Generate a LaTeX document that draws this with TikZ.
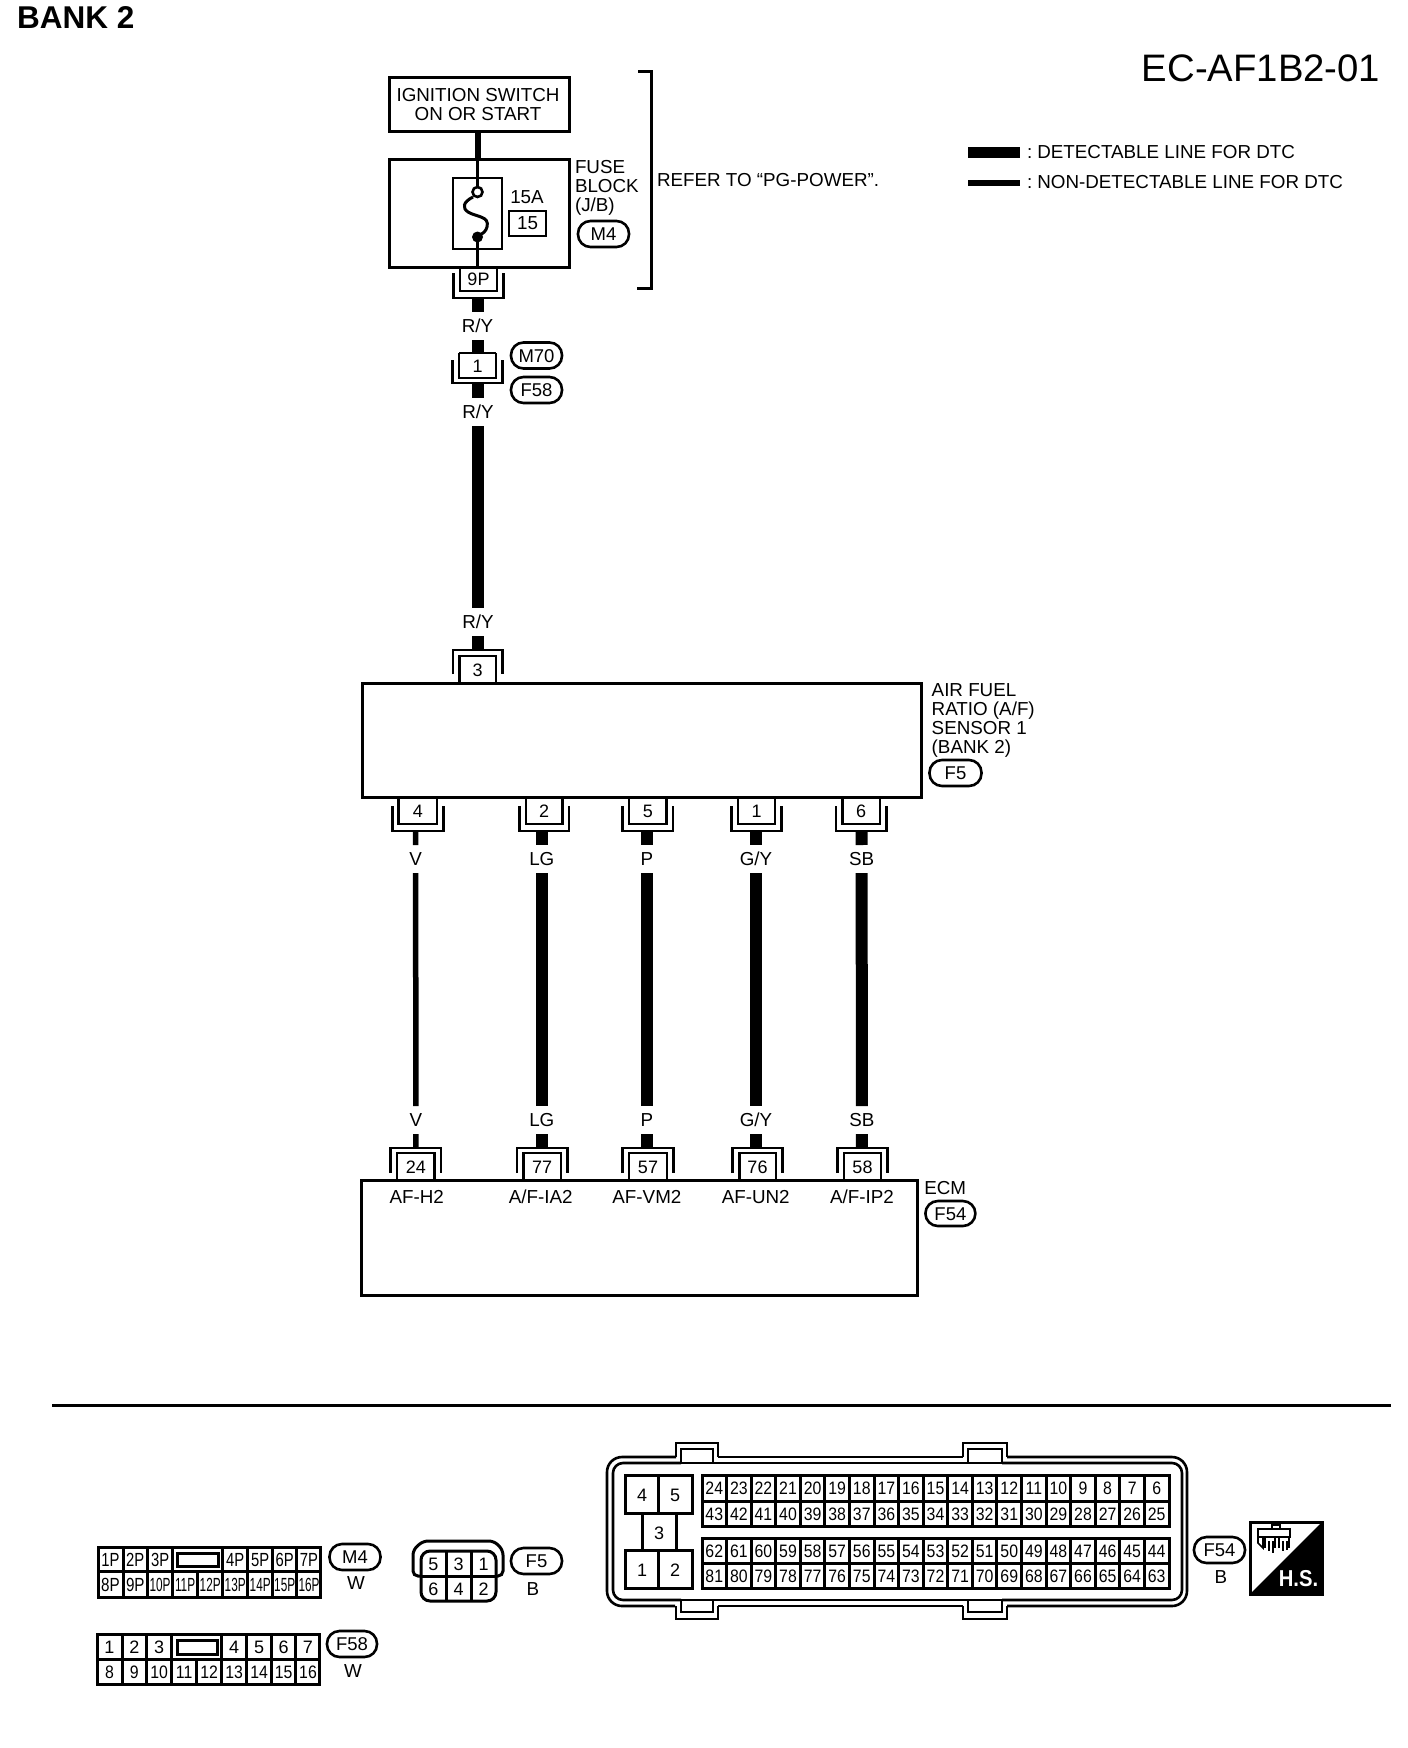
\documentclass[tikz,border=0pt]{standalone}
\usepackage{fontspec}
\setmainfont{Liberation Sans}
\newcommand\fsz[1]{\fontsize{#1}{#1}\selectfont}
\newcommand\nar[1]{\scalebox{0.88}[1]{#1}}
\tikzset{
 ln/.style={line width=2.6pt,line cap=square,line join=miter},
 hvy/.style={line width=3pt},
 wth/.style={line width=12pt,line cap=butt},
 wtn/.style={line width=5.5pt,line cap=butt},
 wfn/.style={line width=3pt,line cap=butt},
 tx/.style={inner sep=0pt,outer sep=0pt,font=\fsz{18.8},text height=13.5pt,text depth=0pt},
 wl/.style={tx,minimum height=28pt,minimum width=10pt},
 pill/.style={draw,line width=2.6pt,rounded corners=12.5pt,inner sep=0pt,outer sep=0pt,minimum width=51pt,minimum height=26pt,font=\fsz{18.5},text height=13pt,text depth=0pt},
 pn/.style={inner sep=0pt,outer sep=0pt,font=\fsz{18},text height=13pt,text depth=0pt},
}
% name,label,ix0,ix1,iopen,iclosed,oopen,oclosed,wirex
\newcommand\pinc[9]{%
 \draw[ln] (#3,#5) -- (#3,#6) -- (#4,#6) -- (#4,#5);
 \draw[ln] ({#3-6.5},#7) -- ({#3-6.5},#8) -- ({#4+6.5},#8) -- ({#4+6.5},#7);
 \node[pn,minimum width={(#4-(#3))*1pt},minimum height={abs(#6-(#5))*1pt}] (#1) at ({(#3+#4)/2},{(#5+#6)/2}) {#2};
 \coordinate (#1-w) at (#9,#8);
}
\begin{document}
\begin{tikzpicture}[x=1pt,y=-1pt]
\useasboundingbox (0,0) rectangle (1408,1748);
\node[inner sep=0pt,font=\bfseries\fsz{31.5},text height=22pt,text depth=0pt,anchor=west] (title) at (17,17.5) {BANK 2};
\node[inner sep=0pt,font=\fsz{38.3},text height=27.5pt,text depth=0pt,anchor=east] (code) at (1380.5,67.5) {EC-AF1B2-01};
% legend
\coordinate (lg1a) at (968,152.5); \coordinate (lg1b) at (1020,152.5);
\coordinate (lg2a) at (968,183); \coordinate (lg2b) at (1020,183);
\draw[line width=11pt] (lg1a) -- (lg1b);
\draw[line width=5.5pt] (lg2a) -- (lg2b);
\node[tx,anchor=west] (lgt1) at (1027,152) {:\hspace{.27em}DETECTABLE LINE FOR DTC};
\node[tx,anchor=west] (lgt2) at (1027,182) {:\hspace{.27em}NON-DETECTABLE LINE FOR DTC};
% ignition
\node[draw,hvy,inner sep=0pt,outer sep=0pt,minimum width=180pt,minimum height=54pt] (ign) at (479,104) {};
\node[tx] (ig1) at (478,95) {IGNITION SWITCH};
\node[tx] (ig2) at (478,114) {ON OR START};
\node[draw,hvy,inner sep=0pt,outer sep=0pt,minimum width=180pt,minimum height=108pt] (fb) at (479,213) {};
\coordinate (ignw) at (477.5,131); \coordinate (fbw) at (477.5,159); \coordinate (fbb) at (477.5,267);
\draw[line width=6pt] (ignw) -- (fbw);
\draw[ln] (453,178) rectangle (502,249);
\coordinate (fc1) at (477.5,192); \coordinate (fc2) at (477.5,237);
\draw[wfn] (fbw) -- (fc1);
\draw[wfn] (fc2) -- (fbb);
\draw[line width=3pt] (473,197) .. controls (463,202) and (462,208) .. (468,212) .. controls (476,217) and (490,216) .. (487,227) .. controls (486,231) and (483,234) .. (479,235);
\fill[white] (fc1) circle (5); \draw[line width=2.6pt] (fc1) circle (5);
\fill (fc2) circle (5.5);
\node[tx] (a15) at (527,197) {15A};
\node[draw,ln,inner sep=0pt,outer sep=0pt,minimum width=37pt,minimum height=25pt,font=\fsz{18.8}] (b15) at (527.5,223.5) {15};
\node[tx,anchor=west] (fbl1) at (575,167) {FUSE};
\node[tx,anchor=west] (fbl2) at (575,186) {BLOCK};
\node[tx,anchor=west] (fbl3) at (575,205) {(J/B)};
\node[pill] (pm4) at (603.5,234) {M4};
\draw[hvy] (638,71) -- (651,71) -- (651,288) -- (637,288);
\node[tx,anchor=west] (refer) at (657,180) {REFER TO “PG-POWER”.};
% top connectors and wire
\pinc{c9p}{9P}{460}{497}{267}{291}{273}{298}{477.5}
\node[wl] (ry1) at (477.5,326) {R/Y};
\draw[wth] (c9p-w) -- (ry1.north);
\draw[wth] (ry1.south) -- (477.5,353) coordinate (c1t);
\pinc{c1}{1}{459}{496}{353}{378}{360}{383}{478}
\draw[ln] (459,353) -- (496,353);
\node[pill] (pm70) at (536.5,355.5) {M70};
\node[pill] (pf58) at (536.5,390) {F58};
\node[wl] (ry2) at (478,412) {R/Y};
\draw[wth] (c1-w) -- (ry2.north);
\node[wl] (ry3) at (478,622) {R/Y};
\draw[wth] (ry2.south) -- (ry3.north);
\pinc{c3}{3}{459.3}{496}{683}{656}{674}{650}{478}
\draw[wth] (ry3.south) -- (c3-w);
% sensor
\node[draw,hvy,inner sep=0pt,outer sep=0pt,minimum width=559.7pt,minimum height=114pt] (sensor) at (641.85,740) {};
\node[tx,anchor=west] (sl1) at (931.7,690) {AIR FUEL};
\node[tx,anchor=west] (sl2) at (931.7,708.5) {RATIO (A/F)};
\node[tx,anchor=west] (sl3) at (931.7,727.5) {SENSOR 1};
\node[tx,anchor=west] (sl4) at (931.7,746.5) {(BANK 2)};
\node[pill,minimum width=52pt] (pf5) at (955.5,773) {F5};
\pinc{s4}{4}{398.7}{437}{797}{824}{806}{831}{415.7}
\pinc{s2}{2}{525.8}{562.5}{797}{824}{806}{831}{541.8}
\pinc{s5}{5}{629}{666.6}{797}{824}{806}{831}{647}
\pinc{s1}{1}{738}{775}{797}{824}{806}{831}{756}
\pinc{s6}{6}{842.3}{880}{797}{824}{806}{831}{861.6}
% ECM
\node[draw,hvy,inner sep=0pt,outer sep=0pt,minimum width=556.2pt,minimum height=115pt] (ecm) at (639.5,1237.5) {};
\node[tx,anchor=west] (ecml) at (924.3,1188) {ECM};
\node[pill,minimum width=50pt,minimum height=25pt] (pf54) at (950.4,1213.5) {F54};
\pinc{e24}{24}{397}{434.6}{1180}{1153}{1173}{1148}{415.8}
\pinc{e77}{77}{523.3}{560.8}{1180}{1153}{1173}{1148}{541.8}
\pinc{e57}{57}{629}{667}{1180}{1153}{1173}{1148}{647}
\pinc{e76}{76}{739.2}{775.8}{1180}{1153}{1173}{1148}{756}
\pinc{e58}{58}{844}{881}{1180}{1153}{1173}{1148}{861.8}
\node[tx] (pa) at (416.7,1197) {AF-H2};
\node[tx] (pb) at (540.7,1197) {A/F-IA2};
\node[tx] (pc) at (646.9,1197) {AF-VM2};
\node[tx] (pd) at (755.7,1197) {AF-UN2};
\node[tx] (pe) at (861.9,1197) {A/F-IP2};
% wires
\node[wl] (va) at (415.7,859) {V};    \node[wl] (vb) at (415.8,1120) {V};
\node[wl] (la) at (541.8,859) {LG};   \node[wl] (lb) at (541.8,1120) {LG};
\node[wl] (ma) at (647,859) {P};      \node[wl] (mb) at (647,1120) {P};
\node[wl] (ga) at (756,859) {G/Y};    \node[wl] (gb) at (756,1120) {G/Y};
\node[wl] (sa) at (861.7,859) {SB};   \node[wl] (sb) at (861.8,1120) {SB};
\draw[wtn] (s4-w) -- (va.north) (va.south) -- (vb.north) (vb.south) -- (e24-w);
\draw[wth] (s2-w) -- (la.north) (la.south) -- (lb.north) (lb.south) -- (e77-w);
\draw[wth] (s5-w) -- (ma.north) (ma.south) -- (mb.north) (mb.south) -- (e57-w);
\draw[wth] (s1-w) -- (ga.north) (ga.south) -- (gb.north) (gb.south) -- (e76-w);
\draw[wth] (s6-w) -- (sa.north) (sa.south) -- (sb.north) (sb.south) -- (e58-w);
% rule
\coordinate (ra) at (52,1405); \coordinate (rb) at (1391,1405);
\draw[line width=3pt] (ra) -- (rb);
% M4 connector
\draw[hvy] (98,1547) rectangle (320.5,1597);
\draw[hvy] (98,1571.5) -- (320.5,1571.5);
\foreach \x in {123,147.7,172.6,222.7,247.7,272.7,296.7}{\draw[hvy] (\x,1547) -- (\x,1597);}
\draw[hvy] (197.7,1571.5) -- (197.7,1597);
\draw[hvy] (177,1553) rectangle (218,1566);
\foreach \l/\x in {1P/110.5,2P/135.3,3P/160.1,4P/235.2,5P/260.2,6P/284.7,7P/309}{
 \node[pn,font=\fsz{19},name=mt\l] at (\x,1559.5) {\scalebox{.78}[1]{\l}};}
\foreach \l/\x in {8P/110.5,9P/135.3}{
 \node[pn,font=\fsz{19},name=mb\l] at (\x,1584.5) {\scalebox{.8}[1]{\l}};}
\foreach \l/\x in {10P/160.1,11P/185.1,12P/210.2,13P/235.2,14P/260.2,15P/284.7,16P/309}{
 \node[pn,font=\fsz{19},name=mb\l] at (\x,1584.5) {\scalebox{.62}[1]{\l}};}
\node[pill] (pm4b) at (355,1557) {M4};
\node[tx] (wm4) at (356,1583) {W};
% F58 connector
\draw[hvy] (97.5,1634) rectangle (319.5,1684);
\draw[hvy] (97.5,1659) -- (319.5,1659);
\foreach \x in {122,146.7,171.6,221.7,246.7,271.7,295.7}{\draw[hvy] (\x,1634) -- (\x,1684);}
\draw[hvy] (196.7,1659) -- (196.7,1684);
\draw[hvy] (177,1640.5) rectangle (217,1654);
\foreach \l/\x in {1/109.5,2/134.3,3/159.1,4/234.2,5/259.2,6/283.7,7/308}{
 \node[pn,name=ft\l] at (\x,1646.5) {\l};}
\foreach \l/\x in {8/109.5,9/134.3,10/159.1,11/184.1,12/209.2,13/234.2,14/259.2,15/283.7,16/308}{
 \node[pn,name=fb\l] at (\x,1671.5) {\nar{\l}};}
\node[pill,minimum width=50pt] (pf58b) at (352,1644) {F58};
\node[tx] (wf58) at (353,1671) {W};
% F5 connector
\draw[hvy,rounded corners=5pt,line cap=butt] (421,1576) -- (413,1576) -- (413,1550) -- (423,1541) -- (494,1541) -- (503,1550) -- (503,1576) -- (496,1576);
\draw[hvy,rounded corners=9pt] (421,1551) rectangle (496,1601);
\draw[hvy] (421,1576) -- (496,1576) (446,1551) -- (446,1601) (471,1551) -- (471,1601);
\foreach \l/\x/\y in {5/433.5/1563.5,3/458.5/1563.5,1/483.5/1563.5,6/433.5/1588.5,4/458.5/1588.5,2/483.5/1588.5}{
 \node[pn,name=f5\l] at (\x,\y) {\l};}
\node[pill] (pf5b) at (536.5,1561) {F5};
\node[tx] (bf5) at (533,1589) {B};
% ECM connector: outline
\draw[ln,rounded corners=15pt] (676,1457) -- (607,1457) -- (607,1606) -- (675,1606);
\draw[ln,rounded corners=15pt] (1007,1457) -- (1187,1457) -- (1187,1606) -- (1007,1606);
\draw[ln] (718,1457) -- (963,1457) (718,1606) -- (963,1606);
\draw[ln,rounded corners=10pt] (681,1463) -- (613,1463) -- (613,1600) -- (681,1600);
\draw[ln,rounded corners=10pt] (1002,1463) -- (1182,1463) -- (1182,1600) -- (1002,1600);
\draw[ln] (681,1463) -- (1002,1463) (681,1600) -- (1002,1600);
\foreach \a/\b/\c/\d in {676/718/681/713,963/1007/968/1002}{
 \draw[ln] (\a,1457) -- (\a,1443) -- (\b,1443) -- (\b,1457);
 \draw[ln] (\c,1463) -- (\c,1449) -- (\d,1449) -- (\d,1463);
 \draw[ln] (\a,1606) -- (\a,1619) -- (\b,1619) -- (\b,1606);
 \draw[ln] (\c,1600) -- (\c,1612) -- (\d,1612) -- (\d,1600);
}
% ECM power cells
\draw[hvy] (625,1475) rectangle (692,1513) (658.5,1475) -- (658.5,1513);
\draw[hvy] (625,1550) rectangle (692,1588) (658.5,1550) -- (658.5,1588);
\draw[hvy] (642,1513) -- (642,1550) (676,1513) -- (676,1550);
\foreach \l/\x/\y in {4/642/1495,5/675/1495,3/659/1533,1/642/1570,2/675/1570}{
 \node[pn,name=ep\l] at (\x,\y) {\l};}
% ECM signal grids
\draw[hvy] (702,1475) rectangle (1169,1526) (702,1501) -- (1169,1501);
\draw[hvy] (702,1538) rectangle (1169,1588) (702,1563) -- (1169,1563);
\foreach \i in {0,...,18}{
 \pgfmathsetmacro\xx{702+24.58*(\i+.5)}
 \pgfmathsetmacro\xd{702+24.58*(\i+1)}
 \pgfmathtruncatemacro\na{24-\i}
 \pgfmathtruncatemacro\nb{43-\i}
 \pgfmathtruncatemacro\nc{62-\i}
 \pgfmathtruncatemacro\nd{81-\i}
 \node[pn,name=g\na] at (\xx,1488) {\nar{\na}};
 \node[pn,name=g\nb] at (\xx,1513.5) {\nar{\nb}};
 \node[pn,name=g\nc] at (\xx,1550.5) {\nar{\nc}};
 \node[pn,name=g\nd] at (\xx,1575.5) {\nar{\nd}};
 \ifnum\i<18
  \draw[hvy] (\xd,1475) -- (\xd,1526) (\xd,1538) -- (\xd,1588);
 \fi
}
\node[pill] (pf54b) at (1219.5,1550) {F54};
\node[tx] (bf54) at (1221,1577) {B};
% H.S. box
\fill (1322,1522) -- (1322,1594) -- (1250,1594) -- cycle;
\draw[hvy] (1250,1522) rectangle (1322,1594);
\node[inner sep=0pt,font=\bfseries\fsz{23},text height=16.5pt,text depth=0pt,text=white] (hs) at (1298.5,1578) {\scalebox{.88}[1]{H.S.}};
\draw[line width=1.6pt] (1258,1529) rectangle (1290,1537) (1258,1529) -- (1258,1543) -- (1263,1548) -- (1263,1537);
\draw[line width=1.6pt] (1272,1529) -- (1272,1525) -- (1280,1525) -- (1280,1529);
\draw[line width=2.4pt] (1265,1548) -- (1265,1537) -- (1275,1537) -- (1275,1548) (1279,1548) -- (1279,1537) -- (1289,1537) -- (1289,1548);
\draw[line width=1.6pt] (1269,1541) -- (1269,1551) (1273,1541) -- (1273,1553) (1283,1541) -- (1283,1551) (1287,1541) -- (1287,1550);
\end{tikzpicture}
\end{document}
